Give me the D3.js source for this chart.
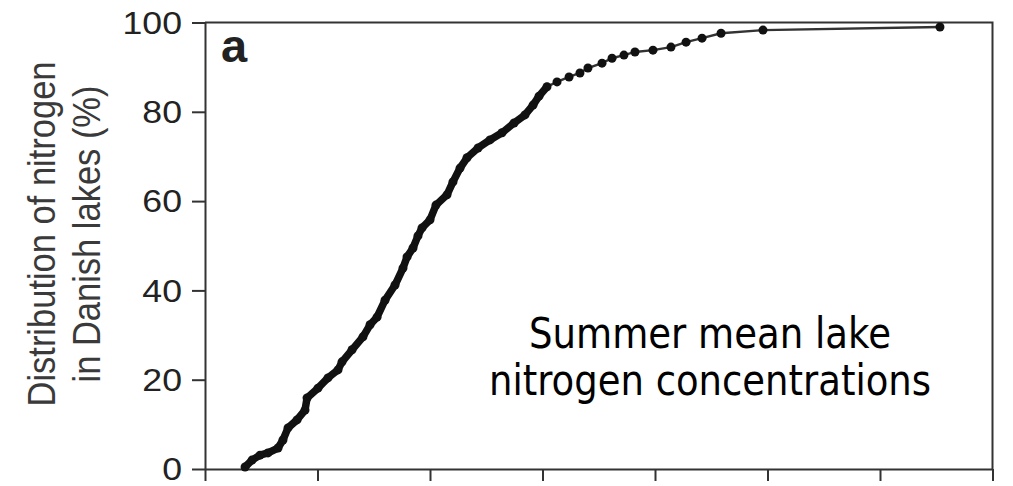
<!DOCTYPE html>
<html>
<head>
<meta charset="utf-8">
<script src="https://cdn.jsdelivr.net/npm/d3@7"></script>
<style>
  body { margin: 0; background: #fff; }
  svg { display: block; }
</style>
</head>
<body>
<div id="chart"></div>
<script>
// cumulative distribution of summer mean N in Danish lakes (x axis has no labels, units = tick intervals)
var concN = [0.356, 0.418, 0.489, 0.560, 0.649, 0.693, 0.738, 0.818, 0.889, 0.907,
             1.004, 1.093, 1.182, 1.218, 1.307, 1.404, 1.467, 1.529, 1.600, 1.689,
             1.760, 1.796, 1.849, 1.893, 1.929, 2.000, 2.053, 2.151, 2.204, 2.267,
             2.329, 2.427, 2.533, 2.640, 2.747, 2.844, 2.916, 2.969, 3.040, 3.129,
             3.236, 3.333, 3.404, 3.529, 3.618, 3.724, 3.822, 3.982, 4.142, 4.276,
             4.418, 4.587, 4.960, 6.533];
var pctLakes = [0.45, 2.0, 3.1, 3.6, 4.7, 6.5, 9.2, 11.0, 13.2, 15.9,
                18.1, 20.4, 22.2, 24.0, 26.7, 29.6, 32.3, 34.0, 37.8, 41.2,
                45.0, 47.5, 49.5, 52.2, 54.0, 55.8, 59.1, 61.4, 64.3, 67.4,
                69.7, 71.9, 73.7, 75.3, 77.5, 79.3, 81.5, 83.5, 85.6, 86.7,
                87.8, 88.7, 89.8, 90.9, 92.0, 92.7, 93.4, 93.8, 94.5, 95.6,
                96.5, 97.6, 98.3, 99.0];
var xTicks = [0, 1, 2, 3, 4, 5, 6, 7];
var yTicks = [0, 20, 40, 60, 80, 100];
var yTitle = ["Distribution of nitrogen", "in Danish lakes (%)"];
var panelLabel = "a";
var note = ["Summer mean lake", "nitrogen concentrations"];

var width = 1013,
    height = 486,
    margin = {top: 22.5, right: 20.5, bottom: 17, left: 205},
    axisColor = "#333",
    denseCount = 39; // points packed so tightly they read as one thick line

var data = concN.map(function(d, i) { return {x: d, y: pctLakes[i]}; });

var svg = d3.select("#chart").append("svg")
    .attr("width", width)
    .attr("height", height);

var x = d3.scaleLinear()
    .domain([0, 7])
    .range([margin.left, width - margin.right]);

var y = d3.scaleLinear()
    .domain([0, 100])
    .range([height - margin.bottom, margin.top]);

// frame (top + right)
svg.append("path")
    .attr("d", "M" + x(0) + "," + y(100) + "H" + x(7) + "V" + y(0))
    .attr("fill", "none")
    .attr("stroke", axisColor)
    .attr("stroke-width", 2);

// x axis, ticks only
var xAxis = svg.append("g")
    .attr("transform", "translate(0," + y(0) + ")")
    .call(d3.axisBottom(x).tickValues(xTicks).tickSize(12).tickSizeOuter(0).tickFormat(""));
xAxis.select(".domain").attr("stroke", axisColor).attr("stroke-width", 2);
xAxis.selectAll(".tick line").attr("stroke", axisColor).attr("stroke-width", 2);

// y axis
var yAxis = svg.append("g")
    .attr("transform", "translate(" + x(0) + ",0)")
    .call(d3.axisLeft(y).tickValues(yTicks).tickSize(13).tickSizeOuter(0));
yAxis.select(".domain").attr("stroke", axisColor).attr("stroke-width", 2);
yAxis.selectAll(".tick line").attr("stroke", axisColor).attr("stroke-width", 2);
yAxis.selectAll(".tick text")
    .attr("x", -23 / 1.15)
    .attr("dy", "0.35em")
    .attr("transform", "scale(1.15,1)")
    .style("font-family", "'Liberation Sans', Arial, sans-serif")
    .style("font-size", "31px")
    .attr("fill", "#222");

// y title, two lines
svg.append("g")
    .selectAll("text")
    .data(yTitle)
    .enter().append("text")
      .attr("transform", function(d, i) {
        return "translate(" + (55 + i * 45) + ",234) rotate(-90) scale(1,1.12)";
      })
      .attr("text-anchor", "middle")
      .style("font-family", "'Liberation Sans', Arial, sans-serif")
      .style("font-size", "34.5px")
      .attr("fill", "#3a3a3a")
      .text(function(d) { return d; });

// panel letter
svg.append("text")
    .attr("x", 221)
    .attr("y", 62)
    .style("font-family", "'Liberation Sans', Arial, sans-serif")
    .style("font-weight", "bold")
    .style("font-size", "47px")
    .attr("fill", "#222")
    .text(panelLabel);

var line = d3.line()
    .x(function(d) { return x(d.x); })
    .y(function(d) { return y(d.y); });

// connecting line through every lake
svg.append("path")
    .datum(data)
    .attr("d", line)
    .attr("fill", "none")
    .attr("stroke", "#333")
    .attr("stroke-width", 2.4);

// dense lower part drawn as one heavy stroke
svg.append("path")
    .datum(data.slice(0, denseCount))
    .attr("d", line)
    .attr("fill", "none")
    .attr("stroke", "#111")
    .attr("stroke-width", 7.5)
    .attr("stroke-linejoin", "round")
    .attr("stroke-linecap", "round");

svg.append("g")
    .selectAll("circle")
    .data(data)
    .enter().append("circle")
      .attr("cx", function(d) { return x(d.x); })
      .attr("cy", function(d) { return y(d.y); })
      .attr("r", 4.5)
      .attr("fill", "#111");

// annotation
svg.append("g")
    .selectAll("text")
    .data(note)
    .enter().append("text")
      .attr("x", 710)
      .attr("y", function(d, i) { return 348 + i * 47; })
      .attr("text-anchor", "middle")
      .attr("textLength", function(d, i) { return i === 0 ? 362 : 442; })
      .attr("lengthAdjust", "spacingAndGlyphs")
      .style("font-family", "'DejaVu Sans', Verdana, sans-serif")
      .style("font-size", "43px")
      .attr("fill", "#000")
      .text(function(d) { return d; });
</script>
</body>
</html>
